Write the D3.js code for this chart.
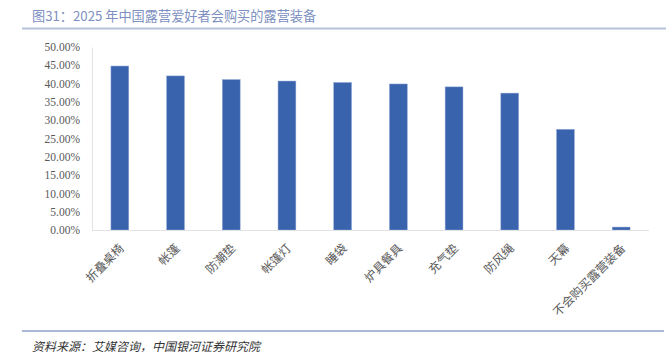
<!DOCTYPE html>
<html><head><meta charset="utf-8">
<script src="https://cdn.jsdelivr.net/npm/d3@7"></script>
<style>body{margin:0;background:#fff}svg{display:block}</style>
</head><body>
<script>
const titleText = "图31：2025 年中国露营爱好者会购买的露营装备";
const sourceText = "资料来源：艾媒咨询，中国银河证券研究院";
const categories = ["折叠桌椅","帐篷","防潮垫","帐篷灯","睡袋","炉具餐具","充气垫","防风绳","天幕","不会购买露营装备"];
const values = [0.448, 0.421, 0.411, 0.407, 0.403, 0.399, 0.391, 0.374, 0.275, 0.008];
const yTicks = [0,0.05,0.10,0.15,0.20,0.25,0.30,0.35,0.40,0.45,0.50];

const W=666,H=364;
const svg=d3.select("body").append("svg").attr("width",W).attr("height",H);
const m={l:92,r:649,t:47,b:230};
const x=d3.scaleBand().domain(categories).range([m.l,m.r]).paddingInner(0.68).paddingOuter(0.34);
const y=d3.scaleLinear().domain([0,0.5]).range([m.b,m.t]);

// title
svg.append("text").attr("x",32).attr("y",21).text(titleText)
  .attr("font-family","'Noto Sans CJK SC',sans-serif").attr("font-size",13.2).attr("fill","#7d90c1");
svg.append("line").attr("x1",22).attr("x2",666).attr("y1",28.5).attr("y2",28.5).attr("stroke","#b5c1da").attr("stroke-width",2);

// axes
const yAxis=d3.axisLeft(y).tickValues(yTicks).tickFormat(d3.format(".2%")).tickSize(0).tickPadding(12);
const gy=svg.append("g").attr("transform",`translate(${m.l},0)`).call(yAxis);
gy.select(".domain").attr("stroke","#e3e3e3");
gy.selectAll("text").attr("font-family","'Liberation Serif',serif").attr("font-size",11.5).attr("fill","#595959");

svg.selectAll("rect.bar").data(values).join("rect").attr("class","bar")
  .attr("x",(d,i)=>x(categories[i])).attr("width",x.bandwidth())
  .attr("y",d=>y(d)).attr("height",d=>y(0)-y(d))
  .attr("fill","#3a63ad").attr("stroke","#8ea6d6").attr("stroke-width",0.5);

const xAxis=d3.axisBottom(x).tickSize(0).tickPadding(0);
const gx=svg.append("g").attr("transform",`translate(0,${m.b})`).call(xAxis);
gx.select(".domain").attr("stroke","#e3e3e3").attr("d",`M${m.l},0.5H${m.r}`);
gx.selectAll("text")
  .attr("font-family","'Noto Sans CJK SC',sans-serif").attr("font-size",12).attr("fill","#595959")
  .attr("text-anchor","end").attr("dy",null).attr("y",0)
  .attr("transform","translate(5,19) rotate(-45)");

// footer
svg.append("line").attr("x1",22).attr("x2",664).attr("y1",331).attr("y2",331).attr("stroke","#8da0c8").attr("stroke-width",1.5);
svg.append("text").attr("x",32).attr("y",351).text(sourceText)
  .attr("font-family","'Noto Sans CJK SC',sans-serif").attr("font-size",12).attr("font-style","italic").attr("fill","#333");
</script>
</body></html>
